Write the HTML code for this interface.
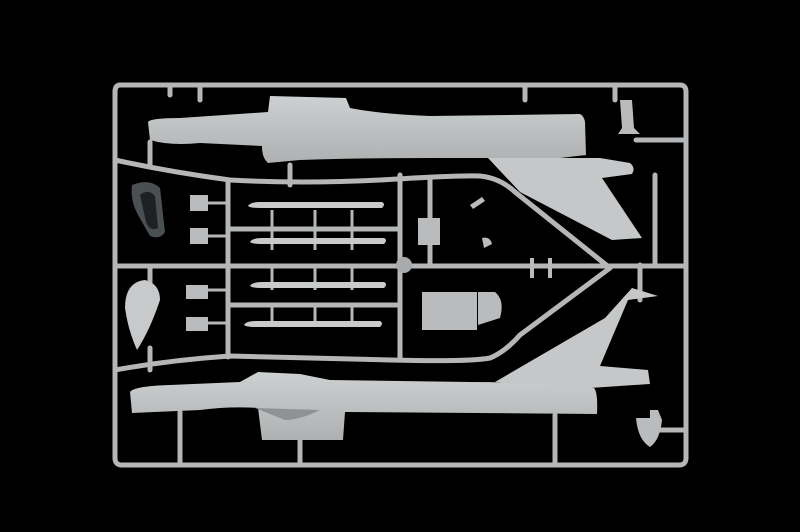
<!DOCTYPE html>
<html><head><style>html,body{margin:0;padding:0;background:#000;}svg{display:block}</style></head>
<body>
<svg width="800" height="532" viewBox="0 0 800 532" xmlns="http://www.w3.org/2000/svg">
<defs>
<linearGradient id="g" x1="0" y1="0" x2="0" y2="1"><stop offset="0" stop-color="#cdd0d1"/><stop offset="1" stop-color="#aeb0b1"/></linearGradient>
</defs>
<rect width="800" height="532" fill="#000"/>
<g fill="none" stroke="#b4b6b7" stroke-width="5" stroke-linecap="round" stroke-linejoin="round">
<path d="M120 85 H680 Q686 85 686 92 V458 Q686 465 679 465 H122 Q115 465 115 458 V92 Q115 85 120 85"/>
<path d="M115 160 Q170 172 230 180 Q300 184 380 180 Q460 175 480 176 Q500 178 515 192 L610 268"/>
<path d="M115 370 Q170 360 230 356 Q320 358 390 360 Q470 362 490 358 Q505 352 520 335 L610 268"/>
<path d="M115 266 H686"/>
<path d="M228 180 V357"/><path d="M400 175 V360"/><path d="M430 180 V265"/>
<path d="M228 229 H398"/><path d="M228 305 H398"/>
<path d="M170 85 V95"/><path d="M200 85 V100"/><path d="M525 85 V100"/><path d="M615 85 V100"/>
<path d="M150 142 V165"/><path d="M290 165 V185"/><path d="M150 266 V285"/><path d="M150 348 V370"/>
<path d="M180 412 V465"/><path d="M300 440 V465"/><path d="M555 415 V465"/><path d="M640 265 V300"/>
<path d="M655 175 V265"/><path d="M636 140 H686"/><path d="M660 430 H686"/>
</g>
<g stroke="#b4b6b7" stroke-width="3">
<path d="M272 210 V229 M315 210 V229 M352 210 V229 M272 229 V250 M315 229 V250 M352 229 V250 M272 266 V290 M315 266 V290 M352 266 V290 M272 305 V325 M315 305 V325 M352 305 V325"/>
<path d="M208 203 H228 M208 236 H228 M208 290 H228 M208 323 H228"/>
</g>
<!-- upper fuselage -->
<path d="M148 122 Q150 118 180 118 L268 112 L270 96 L346 98 L350 108 Q380 114 430 116 L580 114 Q584 116 585 122 L586 155 L560 158 Q480 158 430 158 Q360 158 300 160 L268 163 Q262 158 262 146 L200 143 Q170 146 150 140 Z" fill="url(#g)"/>
<!-- upper fin -->
<path d="M488 158 L600 158 L630 163 Q636 168 632 174 L602 178 L642 238 L612 240 L520 192 Z" fill="#c5c7c8"/>
<!-- lower fuselage -->
<path d="M130 392 Q134 386 170 385 L240 382 L258 372 L300 374 L330 380 L470 382 Q530 382 594 388 Q598 392 597 414 L345 412 L343 440 L262 440 L258 408 Q230 406 200 410 L132 413 Z" fill="url(#g)"/>
<path d="M255 408 L320 410 Q300 420 285 420 Z" fill="#8f9293"/>
<!-- lower fin -->
<path d="M495 382 L605 318 L632 288 L658 296 L628 300 L600 366 L648 370 L650 384 L590 388 Z" fill="#c5c7c8"/>
<!-- missiles -->
<g fill="#c8cacb">
<path d="M248 206 Q250 202 260 202 H382 Q386 204 382 208 H260 Q250 208 248 206Z"/>
<path d="M250 242 Q252 238 262 238 H384 Q388 240 384 244 H262 Q252 244 250 242Z"/>
<path d="M250 286 Q252 282 262 282 H384 Q388 284 384 288 H262 Q252 288 250 286Z"/>
<path d="M244 325 Q246 321 256 321 H380 Q384 323 380 327 H256 Q246 327 244 325Z"/>
</g>
<g fill="#b9bbbc">
<rect x="190" y="195" width="18" height="16"/><rect x="190" y="228" width="18" height="16"/>
<rect x="186" y="285" width="22" height="14"/><rect x="186" y="317" width="22" height="14"/>
<rect x="418" y="218" width="22" height="27"/>
<rect x="422" y="292" width="55" height="38"/><path d="M478 292 H495 Q505 300 500 318 L478 325 Z"/>
<path d="M620 100 L632 100 L634 128 L640 134 L618 134 L622 128Z"/>
<path d="M636 418 L650 418 L650 410 L658 410 L662 420 Q660 440 650 447 Q638 440 636 418Z"/>
<circle cx="404" cy="265" r="8" fill="#a8aaab"/>
<path d="M530 258 h4 v20 h-4z M548 258 h4 v20 h-4z M482 238 q8 -2 10 6 l-8 4z M470 205 l12 -8 l3 4 l-12 8z"/>
</g>
<path d="M125 308 Q125 282 145 280 Q160 284 160 300 Q150 330 137 350 Q128 330 125 308Z" fill="#c7c9ca"/>
<path d="M132 185 Q150 178 160 188 L165 232 Q160 240 150 236 L138 215 Q130 200 132 185Z" fill="#4a4f52"/>
<path d="M140 195 Q148 188 155 196 L158 228 Q150 232 146 222 Z" fill="#1d2123"/>
</svg>
</body></html>
